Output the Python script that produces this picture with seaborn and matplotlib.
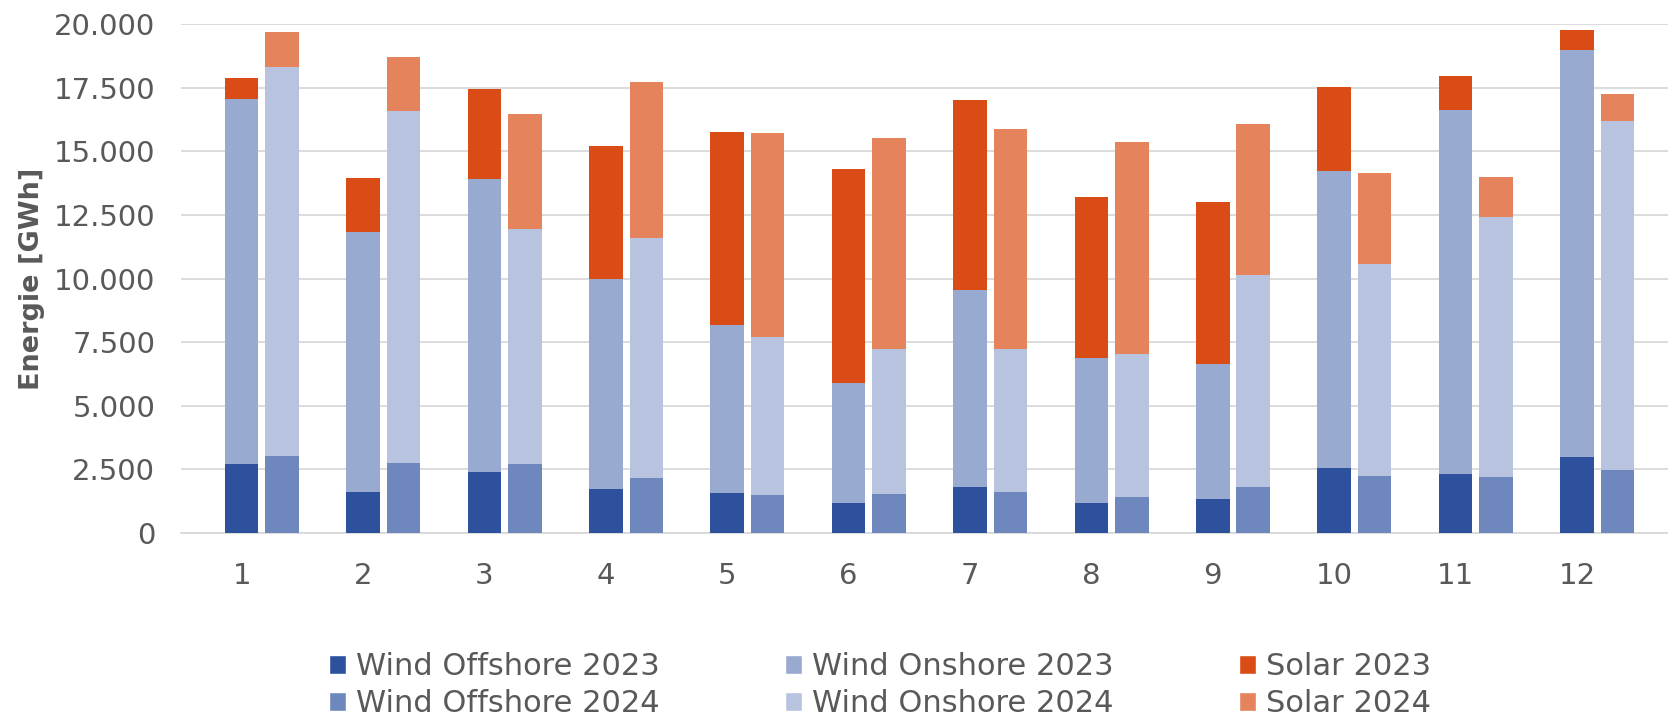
import pandas as pd
import matplotlib.pyplot as plt
import matplotlib.ticker as mticker
from matplotlib.patches import Patch
import seaborn as sns

months = [str(m) for m in range(1, 13)]

# monthly generation in GWh
offshore_2023 = [2710, 1610, 2410, 1730, 1580, 1190, 1790, 1190, 1330, 2550, 2300, 2980]
onshore_2023 = [14340, 10230, 11500, 8240, 6580, 4700, 7740, 5680, 5300, 11690, 14320, 16000]
solar_2023 = [820, 2100, 3520, 5250, 7600, 8430, 7500, 6340, 6380, 3270, 1350, 770]

offshore_2024 = [3020, 2750, 2710, 2170, 1500, 1540, 1620, 1410, 1800, 2240, 2200, 2470]
onshore_2024 = [15290, 13830, 9230, 9410, 6200, 5690, 5610, 5610, 8320, 8330, 10220, 13710]
solar_2024 = [1360, 2140, 4540, 6140, 8020, 8280, 8640, 8360, 5950, 3570, 1580, 1070]

colors = {
    "Wind Offshore 2023": "#2E519E",
    "Wind Onshore 2023": "#98AACF",
    "Solar 2023": "#D94C15",
    "Wind Offshore 2024": "#6E87BD",
    "Wind Onshore 2024": "#B7C3DF",
    "Solar 2024": "#E5835C",
}

frames = []
for year, off, on, sol in [("2023", offshore_2023, onshore_2023, solar_2023),
                           ("2024", offshore_2024, onshore_2024, solar_2024)]:
    d = pd.DataFrame({"month": months, "year": year, "offshore": off, "onshore": on, "solar": sol})
    frames.append(d)
# empty slot in front of each month pair (spacing like the original chart)
frames.append(pd.DataFrame({"month": months, "year": " ", "offshore": 0, "onshore": 0, "solar": 0}))
df = pd.concat(frames, ignore_index=True)
df["wind"] = df["offshore"] + df["onshore"]
df["total"] = df["wind"] + df["solar"]

sns.set_theme(style="white")
plt.rcParams["font.family"] = ["DejaVu Sans"]
grey = "#595959"

fig = plt.figure(figsize=(16.68, 7.12), dpi=100)
ax = fig.add_axes([181 / 1668, 1 - 533 / 712, 1 - 181 / 1668, (533 - 24) / 712])

hue_order = [" ", "2023", "2024"]
layers = [("total", "Solar"), ("wind", "Wind Onshore"), ("offshore", "Wind Offshore")]
for col, name in layers:
    pal = {" ": "white", "2023": colors[name + " 2023"], "2024": colors[name + " 2024"]}
    sns.barplot(data=df, x="month", y=col, hue="year", hue_order=hue_order, order=months,
                palette=pal, saturation=1, width=1.0, gap=0.17, errorbar=None,
                legend=False, linewidth=0, ax=ax)

ax.set_xlim(-0.5, 11.75)
ax.set_ylim(0, 20000)
ax.set_yticks(range(0, 20001, 2500))
ax.yaxis.set_major_formatter(mticker.FuncFormatter(lambda v, p: f"{v:,.0f}".replace(",", ".")))
ax.yaxis.grid(True, color="#D9D9D9", linewidth=1.3)
ax.xaxis.grid(False)
ax.set_axisbelow(True)
for s in ax.spines.values():
    s.set_visible(False)
ax.axhline(0, color="#D9D9D9", linewidth=1.3, clip_on=False, zorder=0.5)

ax.tick_params(axis="y", length=0, pad=18.5, labelsize=21, labelcolor=grey)
ax.tick_params(axis="x", length=0, pad=21, labelsize=21, labelcolor=grey)
ax.set_xlabel("")
ax.set_ylabel("Energie [GWh]", fontsize=19.5, fontweight="bold", color=grey)
ax.yaxis.set_label_coords(-0.0915, 0.5)

order = ["Wind Offshore 2023", "Wind Offshore 2024", "Wind Onshore 2023",
         "Wind Onshore 2024", "Solar 2023", "Solar 2024"]
handles = [Patch(facecolor=colors[k], label=k) for k in order]
leg = fig.legend(handles=handles, loc="upper left", bbox_to_anchor=(329 / 1668, 1 - 652 / 712),
                 ncol=3, frameon=False, fontsize=22, labelcolor=grey, borderpad=0,
                 borderaxespad=0, handlelength=0.56, handleheight=0.6, handletextpad=0.32,
                 columnspacing=4.1, labelspacing=0.27)

fig.savefig("out.png", dpi=100)
